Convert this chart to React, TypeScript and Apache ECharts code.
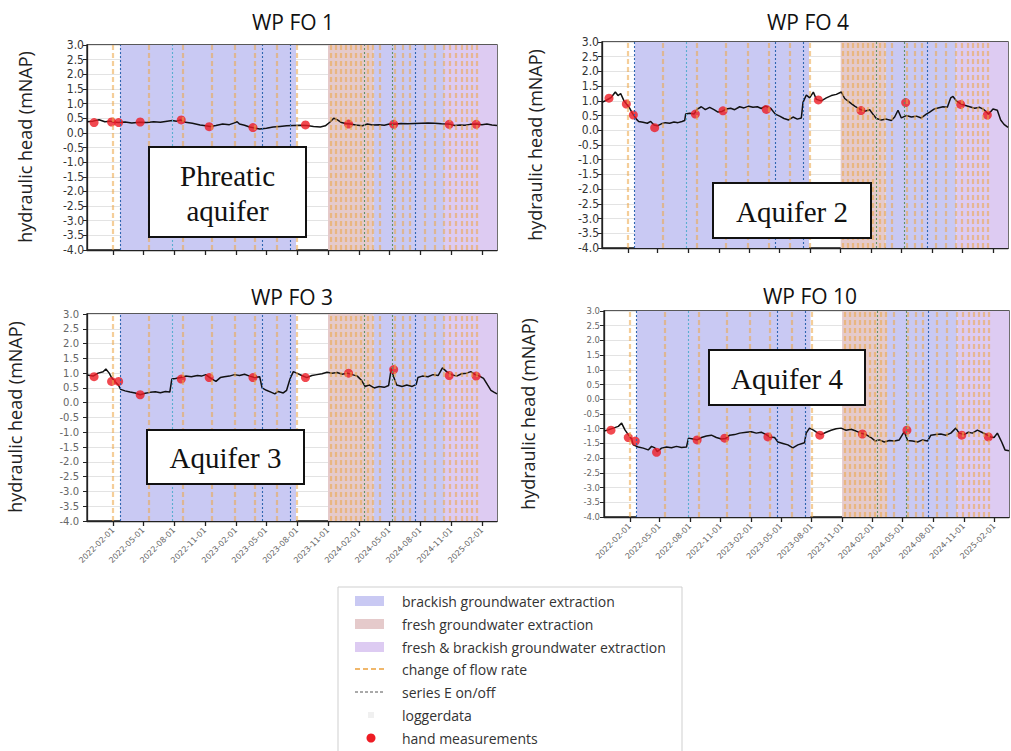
import React, { useEffect, useRef } from 'react';
import * as echarts from 'echarts';

// ---------------- data ----------------
const X_MIN = -78; // days relative to 2022-02-01
const X_MAX = 1140;
const TICK_DAYS = [0, 89, 181, 273, 365, 454, 546, 638, 730, 820, 912, 1004, 1096];
const TICK_LABELS = ['2022-02-01', '2022-05-01', '2022-08-01', '2022-11-01', '2023-02-01', '2023-05-01', '2023-08-01', '2023-11-01', '2024-02-01', '2024-05-01', '2024-08-01', '2024-11-01', '2025-02-01'];

const PANEL_TITLES = ['WP FO 1', 'WP FO 4', 'WP FO 3', 'WP FO 10'];
const AQUIFER_LABELS = ['Phreatic\naquifer', 'Aquifer 2', 'Aquifer 3', 'Aquifer 4'];

const REGION_START = [20, 638, 773, 985];
const REGION_END = [543, 773, 985, 1140];
const REGION_KIND = ['brackish', 'fresh', 'brackish', 'both'];

const FLOW_CHANGE_DAYS = [-2, 105, 207, 292, 360, 421, 486, 546, 645, 660, 675, 690, 705, 720, 735, 755, 770, 792, 837, 860, 880, 924, 954, 983, 1000, 1018, 1035, 1050, 1065, 1080];
const SERIES_E_DAYS = [20, 174, 442, 527, 745, 830, 898];
const SERIES_E_KIND = ['b', 'c', 'b', 'b', 'g', 'g', 'b'];

const HAND_DAYS = [-57, -5, 16, 80, 202, 285, 415, 571, 699, 833, 998, 1078];
const FO1_HAND = [0.35, 0.37, 0.35, 0.37, 0.44, 0.21, 0.18, 0.27, 0.3, 0.29, 0.29, 0.29];
const FO4_HAND = [1.09, 0.89, 0.52, 0.09, 0.55, 0.66, 0.71, 1.03, 0.67, 0.94, 0.88, 0.52];
const FO3_HAND = [0.88, 0.72, 0.72, 0.27, 0.8, 0.85, 0.85, 0.85, 1.0, 1.12, 0.92, 0.9];
const FO10_HAND = [-1.05, -1.3, -1.42, -1.8, -1.38, -1.32, -1.28, -1.22, -1.18, -1.05, -1.22, -1.28];

const FO1_LOG = [
  [-78, 0.38], [-60, 0.4], [-42, 0.45], [-25, 0.38], [-10, 0.4], [0, 0.37], [15, 0.35], [35, 0.37], [55, 0.34], [78, 0.36],
  [100, 0.35], [120, 0.38], [140, 0.36], [160, 0.4], [175, 0.42], [188, 0.4], [200, 0.44], [215, 0.36], [235, 0.33], [258, 0.27],
  [275, 0.24], [288, 0.22], [305, 0.25], [325, 0.3], [345, 0.28], [360, 0.34], [368, 0.38], [375, 0.3], [390, 0.26], [405, 0.2],
  [418, 0.17], [435, 0.13], [455, 0.16], [475, 0.2], [495, 0.22], [515, 0.24], [535, 0.25], [555, 0.26], [575, 0.25], [595, 0.22],
  [615, 0.2], [630, 0.24], [645, 0.38], [655, 0.5], [665, 0.45], [678, 0.35], [690, 0.32], [705, 0.3], [720, 0.27], [740, 0.24],
  [755, 0.3], [770, 0.27], [790, 0.28], [805, 0.26], [820, 0.3], [835, 0.29], [855, 0.32], [875, 0.31], [895, 0.32], [915, 0.33],
  [935, 0.34], [955, 0.33], [975, 0.31], [995, 0.3], [1015, 0.25], [1030, 0.27], [1045, 0.26], [1060, 0.29], [1078, 0.3], [1095, 0.28],
  [1110, 0.3], [1125, 0.27], [1140, 0.25],
];

const FO4_LOG = [
  [-78, 0.95], [-65, 1.02], [-50, 1.12], [-38, 1.3], [-30, 1.18], [-22, 1.25], [-12, 1.0], [-5, 0.9], [5, 0.75], [12, 0.6],
  [18, 0.5], [25, 0.38], [32, 0.3], [45, 0.27], [58, 0.24], [68, 0.3], [78, 0.18], [88, 0.15], [100, 0.22], [112, 0.26],
  [125, 0.24], [138, 0.28], [150, 0.26], [162, 0.3], [170, 0.33], [173, 0.55], [185, 0.58], [198, 0.55], [208, 0.72], [220, 0.8],
  [232, 0.7], [245, 0.78], [258, 0.7], [270, 0.62], [282, 0.64], [295, 0.72], [308, 0.75], [320, 0.7], [335, 0.8], [348, 0.76],
  [362, 0.82], [375, 0.78], [388, 0.8], [400, 0.74], [412, 0.82], [428, 0.75], [442, 0.55], [455, 0.48], [468, 0.4], [482, 0.35],
  [495, 0.45], [508, 0.38], [520, 0.42], [525, 0.95], [535, 1.2], [545, 1.1], [556, 1.3], [565, 1.05], [580, 1.0], [595, 1.1],
  [610, 1.18], [625, 1.22], [640, 1.3], [650, 1.08], [665, 0.95], [680, 0.82], [695, 0.72], [710, 0.65], [725, 0.7], [738, 0.5],
  [745, 0.4], [760, 0.35], [775, 0.38], [790, 0.33], [800, 0.45], [810, 0.68], [820, 0.42], [835, 0.5], [850, 0.45], [865, 0.48],
  [880, 0.42], [895, 0.55], [905, 0.62], [918, 0.72], [930, 0.76], [945, 0.8], [958, 0.78], [968, 1.1], [975, 1.15], [985, 1.0],
  [998, 0.9], [1010, 0.85], [1025, 0.8], [1040, 0.75], [1055, 0.78], [1068, 0.7], [1082, 0.55], [1095, 0.72], [1108, 0.68], [1118, 0.35],
  [1128, 0.2], [1140, 0.1],
];

const FO3_LOG = [
  [-77, 0.94], [-60, 0.9], [-45, 1.0], [-30, 1.05], [-22, 1.14], [-12, 1.0], [-5, 0.85], [5, 0.72], [15, 0.6], [22, 0.45],
  [35, 0.4], [50, 0.36], [65, 0.33], [80, 0.27], [95, 0.32], [110, 0.35], [125, 0.37], [140, 0.34], [155, 0.38], [168, 0.36],
  [174, 0.8], [185, 0.82], [200, 0.85], [215, 0.9], [232, 0.88], [250, 0.92], [262, 0.9], [275, 0.95], [290, 0.82], [305, 0.72],
  [318, 0.85], [330, 0.88], [345, 0.9], [360, 0.95], [375, 0.92], [390, 0.96], [405, 0.9], [420, 0.85], [435, 0.88], [442, 0.5],
  [455, 0.42], [470, 0.35], [480, 0.3], [490, 0.38], [505, 0.33], [515, 0.42], [525, 0.8], [535, 1.05], [545, 1.0], [560, 0.92],
  [575, 0.85], [590, 0.92], [605, 0.95], [620, 0.98], [635, 1.03], [650, 1.0], [665, 1.02], [680, 0.96], [695, 1.0], [710, 0.95],
  [725, 0.9], [738, 0.75], [748, 0.55], [760, 0.6], [775, 0.5], [790, 0.55], [805, 0.52], [818, 0.58], [826, 1.16], [832, 0.9],
  [842, 0.6], [858, 0.55], [872, 0.6], [888, 0.55], [900, 0.62], [905, 0.85], [918, 0.9], [935, 0.88], [950, 0.95], [965, 0.92],
  [978, 1.18], [990, 1.05], [1005, 0.95], [1020, 0.9], [1035, 0.98], [1050, 1.0], [1062, 1.05], [1075, 0.95], [1088, 0.9], [1100, 0.82],
  [1112, 0.6], [1122, 0.42], [1132, 0.35], [1140, 0.3],
];

const FO10_LOG = [
  [-78, -1.08], [-65, -1.04], [-50, -0.98], [-35, -0.92], [-25, -0.81], [-15, -1.04], [-5, -1.2], [5, -1.35], [10, -1.55], [25, -1.62],
  [40, -1.66], [55, -1.72], [65, -1.6], [75, -1.65], [82, -1.78], [95, -1.66], [110, -1.62], [125, -1.65], [140, -1.6], [155, -1.64],
  [170, -1.62], [176, -1.32], [190, -1.35], [203, -1.38], [215, -1.3], [230, -1.25], [245, -1.22], [260, -1.3], [275, -1.35], [288, -1.33],
  [300, -1.22], [315, -1.2], [330, -1.15], [350, -1.12], [365, -1.1], [380, -1.15], [395, -1.12], [410, -1.2], [420, -1.28], [435, -1.3],
  [445, -1.45], [460, -1.5], [475, -1.55], [490, -1.65], [505, -1.55], [518, -1.5], [525, -1.48], [530, -1.15], [540, -0.98], [552, -1.05],
  [565, -1.15], [575, -1.2], [590, -1.12], [605, -1.05], [620, -1.0], [635, -0.98], [650, -1.05], [665, -1.02], [680, -1.08], [695, -1.15],
  [710, -1.2], [725, -1.3], [738, -1.42], [750, -1.38], [765, -1.45], [780, -1.4], [795, -1.42], [810, -1.38], [825, -1.1], [835, -1.4],
  [850, -1.42], [865, -1.45], [880, -1.38], [895, -1.42], [905, -1.22], [920, -1.2], [935, -1.18], [950, -1.22], [965, -1.15], [980, -0.98],
  [990, -1.15], [1005, -1.2], [1018, -1.12], [1030, -1.15], [1045, -1.05], [1058, -1.12], [1072, -1.2], [1085, -1.28], [1095, -1.3], [1105, -1.15],
  [1118, -1.45], [1128, -1.72], [1140, -1.75],
];

const LEGEND_LABELS = ['brackish groundwater extraction', 'fresh groundwater extraction', 'fresh & brackish groundwater extraction', 'change of flow rate', 'series E on/off', 'loggerdata', 'hand measurements'];

// ---------------- style / layout ----------------
const COLORS: Record<string, string> = {
  brackish: '#c9c9f3',
  fresh: '#e5cacb',
  both: '#ddcbf2',
  flow: 'rgba(236,165,70,0.55)',
  b: '#2f66b0',
  c: '#5aaed0',
  g: '#5f9266',
};

const GRIDS = [
  { left: 87, top: 45, width: 410, height: 205 },
  { left: 602, top: 42, width: 406, height: 206 },
  { left: 87, top: 314, width: 410, height: 207 },
  { left: 604, top: 311, width: 405, height: 206 },
];
const TITLE_POS = [[293, 22], [808, 22], [292, 297], [810, 296]];
const YNAME_POS = [[25, 147], [535, 145], [15, 417], [528, 414]];
const BOX = [
  { x: 149, y: 147, w: 157, h: 90 },
  { x: 713, y: 183, w: 158, h: 55 },
  { x: 147, y: 430, w: 157, h: 54 },
  { x: 709, y: 350, w: 156, h: 55 },
];

const LOGS = [FO1_LOG, FO4_LOG, FO3_LOG, FO10_LOG];
const HANDS = [FO1_HAND, FO4_HAND, FO3_HAND, FO10_HAND];

function buildOption() {
  const grid: any[] = [];
  const xAxis: any[] = [];
  const yAxis: any[] = [];
  const series: any[] = [];
  const graphic: any[] = [];

  GRIDS.forEach((g, i) => {
    grid.push({ ...g, show: true, borderColor: '#222', borderWidth: 1.3, backgroundColor: 'transparent' });
    xAxis.push({
      gridIndex: i,
      type: 'value',
      min: X_MIN,
      max: X_MAX,
      axisLine: { show: true, onZero: false, lineStyle: { color: '#222', width: 1.3 } },
      axisTick: { show: true, customValues: TICK_DAYS, length: 5, lineStyle: { color: '#222', width: 1.3 } },
      axisLabel: {
        show: i >= 2,
        customValues: TICK_DAYS,
        rotate: 45,
        margin: 8,
        fontSize: 8,
        color: '#666',
        fontFamily: 'DejaVu Sans',
        formatter: (v: number) => {
          const k = TICK_DAYS.indexOf(Math.round(v));
          return k >= 0 ? TICK_LABELS[k] : '';
        },
      },
      splitLine: { show: false },
    });
    const small = i >= 2;
    yAxis.push({
      gridIndex: i,
      type: 'value',
      min: -4,
      max: 3,
      interval: 0.5,
      axisLine: { show: true, onZero: false, lineStyle: { color: '#222', width: 1.3 } },
      axisTick: { show: true, length: 4, lineStyle: { color: '#222' } },
      axisLabel: {
        formatter: (v: number) => (Math.abs(v) < 1e-9 ? '0.0' : v.toFixed(1)),
        fontSize: i < 2 ? 12 : i === 2 ? 10 : 8.5,
        lineHeight: i < 2 ? 13 : undefined,
        fontFamily: i < 2 ? 'DejaVu Sans Condensed' : 'DejaVu Sans',
        color: small ? '#666' : '#333',
        margin: i < 2 ? 3 : i === 2 ? 8 : 4,
        showMinLabel: true,
        showMaxLabel: true,
        hideOverlap: false,
      },
      splitLine: { show: true, lineStyle: { color: '#e3e3e3', width: 1 } },
    });

    series.push({
      type: 'line',
      xAxisIndex: i,
      yAxisIndex: i,
      data: [],
      silent: true,
      z: 1,
      markArea: {
        silent: true,
        data: REGION_START.map((s, k) => [
          { xAxis: s, itemStyle: { color: COLORS[REGION_KIND[k]], opacity: 1 } },
          { xAxis: REGION_END[k] },
        ]),
      },
    });
    series.push({
      type: 'line',
      xAxisIndex: i,
      yAxisIndex: i,
      data: [],
      silent: true,
      z: 2,
      markLine: {
        silent: true,
        symbol: ['none', 'none'],
        label: { show: false },
        data: [
          ...FLOW_CHANGE_DAYS.map((d) => ({ xAxis: d, lineStyle: { color: COLORS.flow, width: 2.2, type: [5, 3] } })),
          ...SERIES_E_DAYS.map((d, k) => ({ xAxis: d, lineStyle: { color: COLORS[SERIES_E_KIND[k]], width: 1.1, type: [2, 2] } })),
        ],
      },
    });
    series.push({
      type: 'line',
      name: 'loggerdata',
      xAxisIndex: i,
      yAxisIndex: i,
      data: LOGS[i],
      showSymbol: false,
      symbol: 'none',
      z: 3,
      lineStyle: { color: '#111', width: 1.5 },
    });
    series.push({
      type: 'scatter',
      name: 'hand measurements',
      xAxisIndex: i,
      yAxisIndex: i,
      data: HAND_DAYS.map((d, k) => [d, HANDS[i][k]]),
      symbol: 'circle',
      symbolSize: 9,
      itemStyle: { color: '#ee1c24' },
      z: 4,
    });

    // title
    graphic.push({
      type: 'text',
      x: TITLE_POS[i][0],
      y: TITLE_POS[i][1],
      z: 100,
      style: { text: PANEL_TITLES[i], font: '21px "Open Sans"', fill: '#111', align: 'center', verticalAlign: 'middle' },
    });
    // y-axis name
    graphic.push({
      type: 'text',
      x: YNAME_POS[i][0],
      y: YNAME_POS[i][1],
      rotation: Math.PI / 2,
      z: 100,
      style: { text: 'hydraulic head (mNAP)', font: '18px "Open Sans"', fill: '#222', align: 'center', verticalAlign: 'middle' },
    });
    // aquifer box
    const b = BOX[i];
    graphic.push({
      type: 'rect',
      z: 100,
      shape: { x: b.x, y: b.y, width: b.w, height: b.h },
      style: { fill: '#fff', stroke: '#111', lineWidth: 2 },
    });
    graphic.push({
      type: 'text',
      z: 101,
      x: b.x + b.w / 2,
      y: b.y + b.h / 2 + 1,
      style: {
        text: AQUIFER_LABELS[i],
        font: '29px "Liberation Serif"',
        lineHeight: 35,
        fill: '#111',
        align: 'center',
        verticalAlign: 'middle',
      },
    });
  });

  // legend
  const LX = 338, LY = 587;
  graphic.push({
    type: 'rect',
    z: 100,
    shape: { x: LX, y: LY, width: 344, height: 180 },
    style: { fill: '#fff', stroke: '#cfcfcf', lineWidth: 1 },
  });
  const rows = [601, 624, 647, 669, 692, 715, 738];
  const patchColors = [COLORS.brackish, COLORS.fresh, COLORS.both];
  rows.forEach((ry, k) => {
    if (k < 3) {
      graphic.push({ type: 'rect', z: 101, shape: { x: 355, y: ry - 5, width: 29, height: 10 }, style: { fill: patchColors[k] } });
    } else if (k === 3) {
      graphic.push({ type: 'line', z: 101, shape: { x1: 355, y1: ry, x2: 385, y2: ry }, style: { stroke: 'rgba(236,165,70,0.8)', lineWidth: 2, lineDash: [5, 3] } });
    } else if (k === 4) {
      graphic.push({ type: 'line', z: 101, shape: { x1: 355, y1: ry, x2: 385, y2: ry }, style: { stroke: '#555', lineWidth: 1, lineDash: [3, 2] } });
    } else if (k === 5) {
      graphic.push({ type: 'rect', z: 101, shape: { x: 368, y: ry - 3, width: 6, height: 6 }, style: { fill: '#f0f0f0' } });
    } else {
      graphic.push({ type: 'circle', z: 101, shape: { cx: 371, cy: ry, r: 4.5 }, style: { fill: '#ee1c24' } });
    }
    graphic.push({
      type: 'text',
      z: 101,
      x: 402,
      y: ry,
      style: { text: LEGEND_LABELS[k], font: '14px "Open Sans"', fill: '#333', align: 'left', verticalAlign: 'middle' },
    });
  });

  return { animation: false, backgroundColor: '#fff', grid, xAxis, yAxis, series, graphic };
}

export default function App() {
  const ref = useRef<HTMLDivElement>(null);
  useEffect(() => {
    document.body.style.margin = '0';
    const chart = echarts.init(ref.current!, undefined, { renderer: 'svg' });
    chart.setOption(buildOption() as any);
    return () => chart.dispose();
  }, []);
  return <div ref={ref} style={{ width: 1011, height: 751 }} />;
}
